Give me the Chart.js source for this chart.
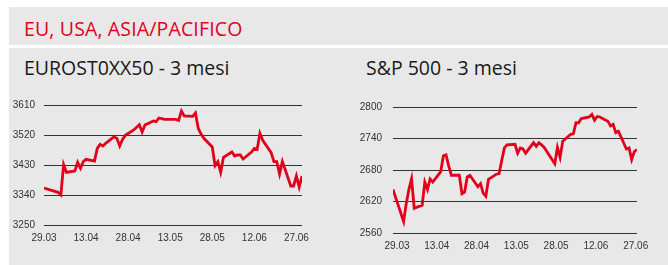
<!DOCTYPE html>
<html>
<head>
<meta charset="utf-8">
<script src="https://cdn.jsdelivr.net/npm/chart.js@4/dist/chart.umd.min.js"></script>
<style>
  html, body { margin: 0; padding: 0; background: #fff; }
  #page { position: relative; width: 668px; height: 265px; overflow: hidden; }
  .band { position: absolute; background: #e8e8e8; }
  .title { position: absolute; font-family: "Open Sans", sans-serif; white-space: nowrap; line-height: 1; }
  .chart-box { position: absolute; top: 90px; width: 334px; height: 170px; }
</style>
</head>
<body>
<div id="page">
  <div class="band" style="left:9px;top:7px;width:659px;height:38px"></div>
  <div class="band" style="left:9px;top:48px;width:659px;height:217px"></div>
  <div class="title" style="left:24px;top:19px;font-size:19.5px;letter-spacing:0.15px;color:#e2001a">EU, USA, ASIA/PACIFICO</div>
  <div class="title" style="left:24px;top:58px;font-size:19.5px;color:#1a1a1a">EUROST0XX50 - 3 mesi</div>
  <div class="title" style="left:366px;top:58px;font-size:19.5px;color:#1a1a1a">S&amp;P 500 - 3 mesi</div>
  <div class="chart-box" style="left:0"><canvas id="euro"></canvas></div>
  <div class="chart-box" style="left:334px"><canvas id="spx"></canvas></div>
</div>
<script>
// --- DATA ---
const xTickLabels = ['29.03', '13.04', '28.04', '13.05', '28.05', '12.06', '27.06'];

const euroDates = ['29.03','03.04','04.04','05.04','06.04','09.04','10.04','11.04','12.04','13.04',
  '16.04','17.04','18.04','19.04','20.04','23.04','24.04','25.04','26.04','27.04','30.04',
  '02.05','03.05','04.05','07.05','08.05','09.05','10.05','11.05','14.05','15.05','16.05','17.05','18.05',
  '21.05','22.05','23.05','24.05','25.05','28.05','29.05','30.05','31.05',
  '01.06','04.06','05.06','06.06','07.06','08.06','11.06','12.06','13.06','14.06','15.06',
  '18.06','19.06','20.06','21.06','22.06','25.06','26.06','27.06','28.06','29.06'];
const euroValues = [3361, 3348, 3340, 3431, 3408, 3412, 3438, 3420, 3440, 3447,
  3442, 3480, 3492, 3487, 3495, 3515, 3510, 3487, 3507, 3519, 3535,
  3551, 3529, 3550, 3562, 3560, 3571, 3569, 3567, 3567, 3567, 3564, 3592, 3577,
  3576, 3586, 3540, 3523, 3510, 3484, 3428, 3440, 3408,
  3453, 3469, 3457, 3460, 3460, 3448, 3469, 3480, 3477, 3525, 3504,
  3467, 3440, 3440, 3403, 3441, 3367, 3367, 3397, 3364, 3397];
const euroTicks = [3250, 3340, 3430, 3520, 3610];

const spxDates = ['29.03','02.04','03.04','04.04','05.04','06.04','09.04','10.04','11.04','12.04','13.04',
  '16.04','17.04','18.04','19.04','20.04','23.04','24.04','25.04','26.04','27.04','30.04',
  '01.05','02.05','03.05','04.05','07.05','08.05','09.05','10.05','11.05','14.05','15.05','16.05','17.05','18.05',
  '21.05','22.05','23.05','24.05','25.05','29.05','30.05','31.05',
  '01.06','04.06','05.06','06.06','07.06','08.06','11.06','12.06','13.06','14.06','15.06',
  '18.06','19.06','20.06','21.06','22.06','25.06','26.06','27.06','28.06','29.06'];
const spxValues = [2643, 2582, 2616, 2643, 2663, 2607, 2613, 2657, 2643, 2663, 2657,
  2677, 2707, 2709, 2688, 2670, 2670, 2635, 2638, 2667, 2670, 2648,
  2654, 2636, 2630, 2662, 2672, 2673, 2698, 2722, 2728, 2729, 2712, 2722, 2720, 2712,
  2732, 2725, 2732, 2728, 2723, 2692, 2723, 2704,
  2735, 2748, 2749, 2770, 2770, 2778, 2781, 2786, 2775, 2782, 2781,
  2773, 2764, 2767, 2751, 2754, 2720, 2722, 2700, 2715, 2719];
const spxTicks = [2560, 2620, 2680, 2740, 2800];

// --- HELPERS ---
const YEAR = 2018;
const START = Date.UTC(YEAR, 2, 29);
function dayOf(s) {
  const [d, m] = s.split('.').map(Number);
  return (Date.UTC(YEAR, m - 1, d) - START) / 86400000;
}

const tickFont = { family: '"Liberation Sans", Arial, sans-serif', size: 10 };

function makeChart(id, dates, values, yTicks, box) {
  const ctx = document.getElementById(id).getContext('2d');
  return new Chart(ctx, {
    type: 'line',
    data: {
      datasets: [{
        data: dates.map((d, i) => ({ x: dayOf(d), y: values[i] })),
        borderColor: '#e2001a', borderWidth: 2.8, pointRadius: 0, tension: 0, fill: false
      }]
    },
    options: {
      responsive: true, maintainAspectRatio: false, animation: false,
      layout: { padding: { left: 0, top: box.padTop, right: box.padRight, bottom: 0 } },
      plugins: { legend: { display: false }, tooltip: { enabled: false } },
      scales: {
        x: {
          type: 'linear', min: 0, max: dayOf('29.06'),
          afterBuildTicks: s => { s.ticks = xTickLabels.map(l => ({ value: dayOf(l) })); },
          afterFit: s => { s.height = box.xHeight; },
          grid: { display: false, drawTicks: false },
          border: { display: false },
          ticks: {
            padding: box.xPad, labelOffset: box.labelOffset, color: '#333', font: tickFont,
            maxRotation: 0, autoSkip: false,
            callback: (v, i) => xTickLabels[i]
          }
        },
        y: {
          min: yTicks[0], max: yTicks[yTicks.length - 1],
          afterBuildTicks: s => { s.ticks = yTicks.map(v => ({ value: v })); },
          afterFit: s => { s.width = box.axisWidth; },
          grid: { color: '#333', lineWidth: 1, drawTicks: false },
          border: { display: false },
          ticks: { padding: box.yPad, color: '#333', font: tickFont, callback: v => String(v) }
        }
      }
    }
  });
}

makeChart('euro', euroDates, euroValues, euroTicks,
  { axisWidth: 44, padTop: 13, padRight: 32, xHeight: 35, xPad: 7, yPad: 9, labelOffset: 0 });
makeChart('spx', spxDates, spxValues, spxTicks,
  { axisWidth: 59, padTop: 16, padRight: 31, xHeight: 27, xPad: 7, yPad: 11, labelOffset: 4 });
</script>
</body>
</html>
